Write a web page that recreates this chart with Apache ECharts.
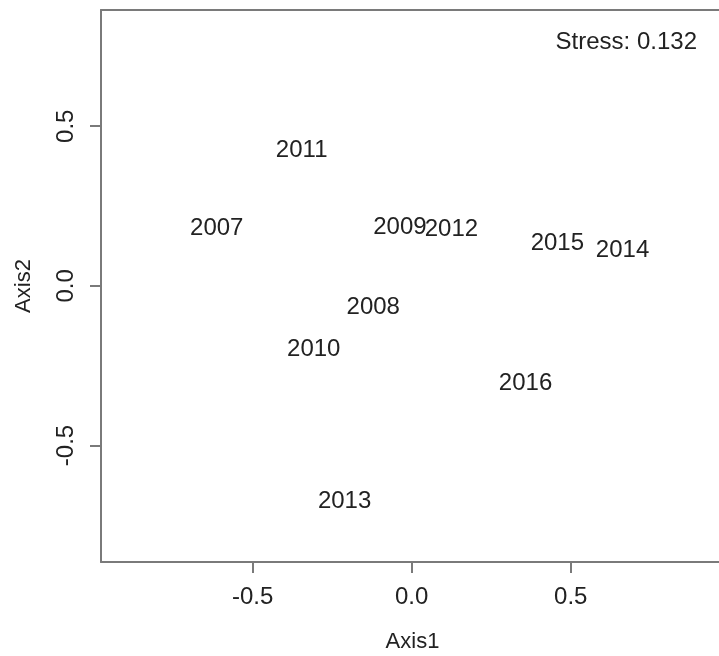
<!DOCTYPE html>
<html>
<head>
<meta charset="utf-8">
<script src="https://cdn.jsdelivr.net/npm/echarts@6/dist/echarts.min.js"></script>
<style>html,body{margin:0;padding:0;background:#fff;}#c{width:719px;height:656px;}</style>
</head>
<body>
<div id="c"></div>
<script>
var years = ['2007','2008','2009','2010','2011','2012','2013','2014','2015','2016'];
var axis1 = [-0.613,-0.121,-0.037,-0.308,-0.346,0.125,-0.211,0.663,0.458,0.358];
var axis2 = [0.179,-0.066,0.184,-0.199,0.424,0.176,-0.674,0.111,0.132,-0.304];
var xTicks = [-0.5, 0.0, 0.5];
var yTicks = [-0.5, 0.0, 0.5];
var stressText = 'Stress: 0.132';

var FONT = "'Liberation Sans', Arial, sans-serif";
var TXT = '#222';
var LINE = '#7a7a7a';

var data = years.map(function(y, i){ return {name: y, value: [axis1[i], axis2[i]]}; });

var XMIN = -0.977, XMAX = 0.982;
var chart = echarts.init(document.getElementById('c'), null, {renderer: 'canvas'});
chart.setOption({
  animation: false,
  backgroundColor: '#fff',
  grid: {left: 101, top: 10, width: 623, height: 552, show: false, containLabel: false, outerBoundsMode: 'none'},
  xAxis: [{
    type: 'value', min: XMIN, max: XMAX, position: 'bottom',
    name: 'Axis1', nameLocation: 'middle', nameGap: 69,
    nameTextStyle: {fontFamily: FONT, fontSize: 22, color: TXT},
    axisLine: {show: true, onZero: false, lineStyle: {color: LINE, width: 2}},
    axisTick: {show: true, length: 11, lineStyle: {color: LINE, width: 2}, customValues: xTicks},
    axisLabel: {margin: 23, fontFamily: FONT, fontSize: 24, color: TXT, customValues: xTicks,
      formatter: function(v){ return v.toFixed(1); }},
    splitLine: {show: false}
  }, {
    type: 'value', min: XMIN, max: XMAX, position: 'top',
    axisLine: {show: true, onZero: false, lineStyle: {color: LINE, width: 2}},
    axisTick: {show: false}, axisLabel: {show: false}, splitLine: {show: false}
  }],
  yAxis: {
    type: 'value', min: -0.865, max: 0.864, position: 'left',
    name: 'Axis2', nameLocation: 'middle', nameGap: 66, nameRotate: 90,
    nameTextStyle: {fontFamily: FONT, fontSize: 22, color: TXT},
    axisLine: {show: true, onZero: false, lineStyle: {color: LINE, width: 2}},
    axisTick: {show: true, length: 11, lineStyle: {color: LINE, width: 2}, customValues: yTicks},
    axisLabel: {margin: 23, rotate: 90, fontFamily: FONT, fontSize: 24, color: TXT, customValues: yTicks,
      formatter: function(v){ return v.toFixed(1); }},
    splitLine: {show: false}
  },
  graphic: [{
    type: 'text', right: 22, top: 30,
    style: {text: stressText, fontFamily: FONT, fontSize: 24, fill: TXT}
  }],
  series: [{
    type: 'scatter',
    xAxisIndex: 0,
    data: data,
    symbolSize: 1,
    itemStyle: {color: 'rgba(0,0,0,0)'},
    label: {show: true, position: 'inside', formatter: '{b}', fontFamily: FONT, fontSize: 24,
      color: TXT, textBorderWidth: 0, opacity: 1},
    emphasis: {disabled: true}
  }]
});
</script>
</body>
</html>
